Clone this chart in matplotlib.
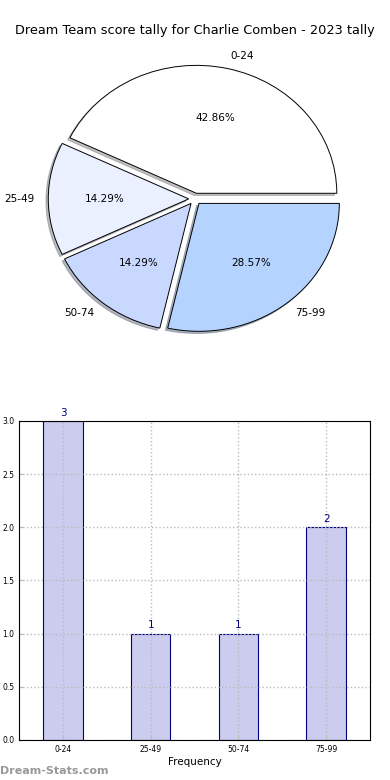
import matplotlib
matplotlib.use('Agg')
import matplotlib.pyplot as plt
import numpy as np

categories = ['0-24', '25-49', '50-74', '75-99']
counts = [3, 1, 1, 2]
pie_colors = ['#ffffff', '#eaf0ff', '#c8d8ff', '#b4d4ff']
title = 'Dream Team score tally for Charlie Comben - 2023 tally'

fig = plt.figure(figsize=(3.9, 7.8), dpi=100)

# pie on top
ax1 = fig.add_axes([0.05, 0.54, 0.9, 0.41])
wedges, texts, autotexts = ax1.pie(counts, labels=categories, colors=pie_colors,
                                   explode=[0.045] * 4,
                                   shadow={'ox': -0.012, 'oy': -0.012, 'shade': 0.5},
                                   autopct='%.2f%%',
                                   wedgeprops=dict(edgecolor='black', linewidth=0.7),
                                   textprops=dict(fontsize=7.5))
ax1.set_aspect('auto')
ax1.set_xlim(-1.25, 1.25)
ax1.set_ylim(-1.25, 1.25)
fig.text(0.5, 0.961, title, ha='center', va='center', fontsize=9.3)

# bar chart below
ax2 = fig.add_axes([0.049, 0.0513, 0.9, 0.409])
x = np.arange(len(categories))
ax2.bar(x, counts, width=0.45, color='#ccccee', edgecolor='navy', linewidth=0.8, zorder=2)
for xi, c in zip(x, counts):
    ax2.text(xi, c + 0.03, str(c), ha='center', va='bottom', color='navy', fontsize=7.5)
ax2.set_xlim(-0.5, 3.5)
ax2.set_ylim(0, 3)
ax2.set_xticks(x)
ax2.set_xticklabels(categories)
ax2.set_yticks(np.arange(0, 3.01, 0.5))
ax2.tick_params(labelsize=5.5, direction='in', length=3, color='#bbbbbb')
ax2.grid(True, linestyle=':', color='#bbbbbb', linewidth=1, zorder=3)
ax2.set_axisbelow(False)
for sp in ax2.spines.values():
    sp.set_zorder(5)
ax2.set_xlabel('Frequency', fontsize=7.5, labelpad=2)

fig.text(0.0, 0.012, 'Dream-Stats.com', ha='left', va='center', fontsize=8,
         color='#999999', fontweight='bold')

fig.savefig('out.png', dpi=100)
